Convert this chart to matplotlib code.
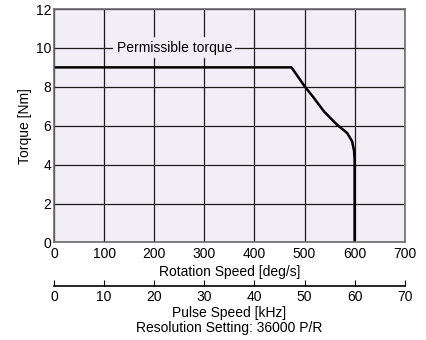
import matplotlib
matplotlib.use("Agg")
import matplotlib.pyplot as plt

plt.rcParams['font.family'] = ['Liberation Sans', 'DejaVu Sans']

# torque curve
speed = [0, 474, 501, 519, 539, 565, 585, 595, 599, 600, 600]
torque = [9.0, 9.0, 8.0, 7.42, 6.73, 6.05, 5.63, 5.2, 4.7, 4.2, 0.0]

rot_ticks = [0, 100, 200, 300, 400, 500, 600, 700]
pulse_ticks = [0, 10, 20, 30, 40, 50, 60, 70]
torque_ticks = [0, 2, 4, 6, 8, 10, 12]

bg = '#f2eef6'
fs = 10

fig = plt.figure(figsize=(4.27, 3.40), dpi=100)
ax = fig.add_axes([0.1265, 0.2868, 0.8213, 0.6867])
ax.set_facecolor(bg)
ax.set_xlim(0, 700)
ax.set_ylim(0, 12)
ax.set_xticks(rot_ticks)
ax.set_yticks(torque_ticks)
ax.grid(True, color='#1a1a1a', linewidth=0.9)
ax.set_axisbelow(True)
ax.tick_params(length=0, labelsize=fs, pad=2)
ax.tick_params(axis='x', pad=3)
for s in ax.spines.values():
    s.set_color('#6e6a70')
    s.set_linewidth(1.2)

ax.plot(speed, torque, color='black', linewidth=1.8, solid_joinstyle='round')

ax.text(240, 10, 'Permissible torque', ha='center', va='center', fontsize=fs,
        bbox=dict(facecolor=bg, edgecolor='none', pad=2.5))

ax.set_xlabel('Rotation Speed [deg/s]', fontsize=fs, labelpad=3)
ax.set_ylabel('Torque [Nm]', fontsize=fs, labelpad=3)

# pulse speed scale
ax2 = fig.add_axes([0.1265, 0.158, 0.8213, 0.0001])
ax2.set_xlim(0, 70)
ax2.set_xticks(pulse_ticks)
ax2.set_yticks([])
ax2.patch.set_visible(False)
for k in ['top', 'left', 'right']:
    ax2.spines[k].set_visible(False)
ax2.spines['bottom'].set_linewidth(1.2)
ax2.tick_params(axis='x', direction='in', length=4, labelsize=fs, pad=3)
ax2.set_xlabel('Pulse Speed [kHz]\nResolution Setting: 36000 P/R', fontsize=fs,
               labelpad=1, linespacing=1.1)

fig.savefig('out.png', dpi=100)
